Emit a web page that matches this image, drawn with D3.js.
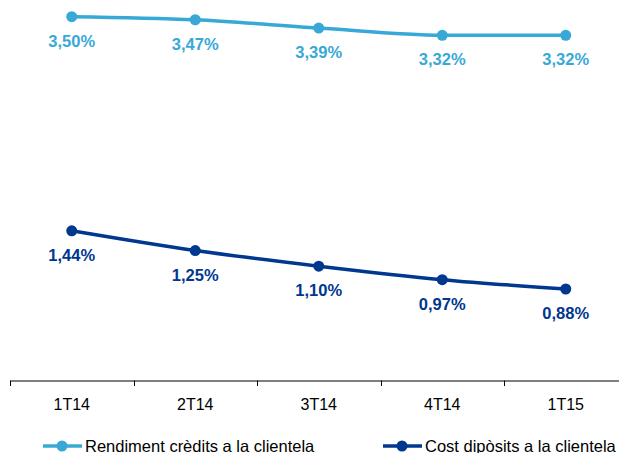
<!DOCTYPE html>
<html>
<head>
<meta charset="utf-8">
<script src="https://cdn.jsdelivr.net/npm/d3@7"></script>
<style>
  html, body { margin: 0; padding: 0; background: #fff; }
  svg { display: block; font-family: "Liberation Sans", Arial, sans-serif; }
</style>
</head>
<body>
<svg id="chart" width="619" height="453"></svg>
<script>
// Quarterly yields and costs (%)
const quarters = ["1T14", "2T14", "3T14", "4T14", "1T15"];
const rendiment = [3.50, 3.47, 3.39, 3.32, 3.32];
const cost = [1.44, 1.25, 1.10, 0.97, 0.88];
const seriesNames = ["Rendiment crèdits a la clientela", "Cost dipòsits a la clientela"];
const colors = ["#38a9d6", "#00378f"];

const svg = d3.select("#chart");

const x = d3.scaleBand().domain(quarters).range([10, 627.5]);
const y = d3.scaleLinear().domain([0, 3.66]).range([380.5, 0]);

// Category axis along the bottom
const axis = d3.axisBottom(x).tickSize(0).tickPadding(18);
const gAxis = svg.append("g").attr("transform", "translate(0,380.5)").call(axis);
gAxis.select(".domain").attr("stroke", "#000").attr("stroke-width", 1);
gAxis.selectAll(".tick text")
  .attr("font-size", 16)
  .attr("font-family", "Liberation Sans, Arial, sans-serif")
  .attr("fill", "#000");
// Tick marks sit on band boundaries
const bounds = quarters.map(q => x(q)).concat([x.range()[1]]);
gAxis.selectAll("line.sep").data(bounds).enter().append("line")
  .attr("class", "sep")
  .attr("x1", d => Math.round(d) + 0.5).attr("x2", d => Math.round(d) + 0.5)
  .attr("y1", 0).attr("y2", 5.5)
  .attr("stroke", "#000").attr("stroke-width", 1);

const cx = q => x(q) + x.bandwidth() / 2;
const line = d3.line().x(d => cx(d.q)).y(d => y(d.v)).curve(d3.curveMonotoneX);
const fmt = v => v.toFixed(2).replace(".", ",") + "%";

[rendiment, cost].forEach((vals, i) => {
  const data = quarters.map((q, j) => ({ q, v: vals[j] }));
  const g = svg.append("g");
  g.append("path").datum(data)
    .attr("d", line)
    .attr("fill", "none")
    .attr("stroke", colors[i])
    .attr("stroke-width", 3.5);
  g.selectAll("circle").data(data).enter().append("circle")
    .attr("cx", d => cx(d.q)).attr("cy", d => y(d.v))
    .attr("r", 5.5).attr("fill", colors[i]);
  g.selectAll("text").data(data).enter().append("text")
    .attr("x", d => cx(d.q)).attr("y", d => y(d.v) + 30)
    .attr("text-anchor", "middle")
    .attr("font-size", 16.5).attr("font-weight", "bold")
    .attr("fill", colors[i])
    .text(d => fmt(d.v));
});

// Legend
const legendX = [43, 383];
seriesNames.forEach((name, i) => {
  const g = svg.append("g").attr("transform", `translate(${legendX[i]},446)`);
  g.append("line").attr("x1", 0).attr("x2", 39).attr("y1", 0).attr("y2", 0)
    .attr("stroke", colors[i]).attr("stroke-width", 3.5);
  g.append("circle").attr("cx", 19).attr("cy", 0).attr("r", 5.5).attr("fill", colors[i]);
  g.append("text").attr("x", 42).attr("y", 6)
    .attr("font-size", 16.5).attr("fill", "#000")
    .text(name);
});
</script>
</body>
</html>
